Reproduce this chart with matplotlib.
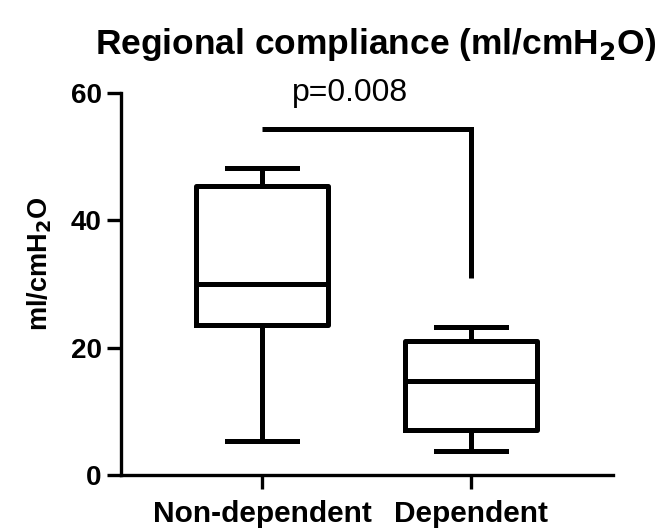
import numpy as np
import matplotlib.pyplot as plt

plt.rcParams['font.family'] = ['Liberation Sans', 'DejaVu Sans']

groups = ["Non-dependent", "Dependent"]
whisker_low = [5.4, 3.8]
q1 = [23.5, 7.1]
medians = [30.0, 14.7]
q3 = [45.4, 21.0]
whisker_high = [48.2, 23.2]

p_text = "p=0.008"
bracket_y = 54.3
bracket_right_drop = 31.0

LW = 3.6

fig = plt.figure(figsize=(6.63, 5.31), dpi=100)
ax = fig.add_axes([0.1825, 0.1055, 0.742, 0.7195])

stats = []
for i, g in enumerate(groups):
    stats.append(dict(label=g, whislo=whisker_low[i], q1=q1[i], med=medians[i],
                      q3=q3[i], whishi=whisker_high[i], fliers=[]))

pos = [1, 2]
ax.bxp(stats, positions=pos, widths=0.635, showfliers=False,
       boxprops=dict(linewidth=LW, color='black'),
       medianprops=dict(linewidth=LW, color='black'),
       whiskerprops=dict(linewidth=LW, color='black'),
       capprops=dict(linewidth=LW, color='black'),
       capwidths=0.335)

# significance bracket
ax.plot([pos[0], pos[1], pos[1]], [bracket_y, bracket_y, bracket_right_drop],
        color='black', lw=LW, clip_on=False, solid_capstyle='butt',
        solid_joinstyle='miter')
ax.text(1.42, 60.0, p_text, ha='center', va='center', fontsize=23, clip_on=False)

ax.set_xlim(0.325, 2.679)
ax.set_ylim(0, 60)
ax.set_yticks([0, 20, 40, 60])
ax.set_xticks(pos)
ax.set_xticklabels(groups, fontsize=21.5, fontweight='bold')
for lab in ax.get_yticklabels():
    lab.set_fontsize(20)
    lab.set_fontweight('bold')

ax.spines['top'].set_visible(False)
ax.spines['right'].set_visible(False)
ax.spines['left'].set_linewidth(2.4)
ax.spines['bottom'].set_linewidth(2.4)
ax.tick_params(axis='both', width=2.4, length=10)
ax.tick_params(axis='y', pad=4)
ax.tick_params(axis='x', pad=8)

ax.set_ylabel("ml/cmH$_\\mathbf{2}$O", fontsize=19.5, fontweight='bold')
ax.yaxis.set_label_coords(-0.136, 0.552)
fig.text(0.566, 0.917, "Regional compliance (ml/cmH$_\\mathbf{2}$O)",
         ha='center', va='center', fontsize=25.5, fontweight='bold')

fig.savefig("out.png", dpi=100)
